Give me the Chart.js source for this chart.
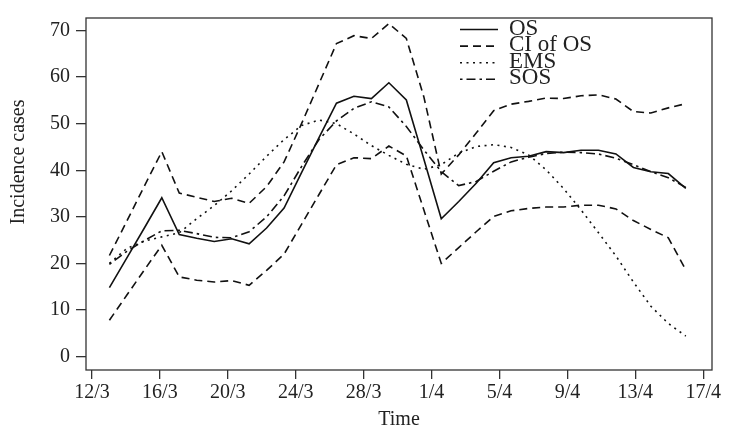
<!DOCTYPE html>
<html>
<head>
<meta charset="utf-8">
<script src="https://cdn.jsdelivr.net/npm/chart.js@4.4.1/dist/chart.umd.min.js"></script>
<style>
  html, body { margin: 0; padding: 0; background: #fff; }
</style>
</head>
<body>
<canvas id="chart" width="733" height="432"></canvas>
<script>
// x positions of the daily observations (tick 0 = 12/3)
const days = [1, 2, 3, 4, 5, 6, 7, 8, 9, 10, 11, 12, 13, 14, 15, 16, 17,
              18, 19, 20, 21, 22, 23, 24, 25, 26, 27, 28, 29, 30, 31, 32, 33, 34];
const tickLabels = ["12/3", "16/3", "20/3", "24/3", "28/3", "1/4", "5/4", "9/4", "13/4", "17/4"];
const tickStep = 35 / 9;
const yTicks = [0, 10, 20, 30, 40, 50, 60, 70];

const os = [14.8, 21.2, 27.6, 34.1, 26.2, 25.4, 24.7, 25.3, 24.2, 27.6, 31.9, 39.5,
            47.0, 54.4, 55.9, 55.4, 58.8, 55.1, 42.4, 29.6, 33.3, 37.2, 41.6, 42.7,
            43.0, 44.0, 43.8, 44.3, 44.3, 43.5, 40.6, 39.7, 39.3, 36.1];
const ciUpper = [21.7, 29.1, 36.6, 44.0, 35.1, 34.2, 33.3, 34.0, 32.9, 36.5, 41.8, 50.0,
                 58.6, 67.2, 68.9, 68.3, 71.5, 68.3, 55.8, 39.2, 43.3, 48.0, 52.8, 54.2,
                 54.8, 55.5, 55.4, 56.0, 56.2, 55.3, 52.6, 52.3, 53.4, 54.3];
const ciLower = [7.8, 13.2, 18.6, 23.9, 17.1, 16.4, 16.0, 16.3, 15.3, 18.5, 22.0, 28.4,
                 34.8, 41.2, 42.7, 42.5, 45.2, 43.1, 31.5, 20.0, 23.4, 26.8, 30.1, 31.3,
                 31.8, 32.1, 32.1, 32.5, 32.5, 31.7, 29.2, 27.3, 25.5, 18.6];
const ems = [20.0, 23.2, 24.8, 25.7, 26.6, 29.6, 32.4, 35.6, 39.2, 43.0, 46.6, 49.6,
             50.8, 50.0, 47.8, 45.3, 43.2, 41.3, 40.2, 41.2, 43.7, 45.1, 45.5, 44.9,
             43.3, 40.1, 36.1, 31.5, 26.6, 21.6, 16.0, 10.8, 7.1, 4.4];
const sos = [19.8, 22.6, 24.9, 27.0, 27.1, 26.4, 25.6, 25.5, 26.8, 30.0, 34.5, 40.8,
             46.6, 50.6, 53.3, 54.7, 53.6, 49.4, 44.4, 39.7, 36.7, 37.6, 39.8, 41.8,
             42.8, 43.6, 43.9, 43.8, 43.5, 42.6, 41.2, 39.7, 38.4, 36.3];

const dashes = { solid: [], dashed: [8, 5], dotted: [2, 4.5], dashDot: [2.5, 4, 9, 4] };
const legendItems = [
  { label: "OS", dash: dashes.solid },
  { label: "CI of OS", dash: dashes.dashed },
  { label: "EMS", dash: dashes.dotted },
  { label: "SOS", dash: dashes.dashDot }
];

const serif = "Liberation Serif";
const ink = "#222";

function series(label, values, dash) {
  return {
    label: label,
    data: values.map((v, k) => ({ x: days[k], y: v })),
    borderColor: "#111",
    borderWidth: 1.6,
    borderDash: dash,
    pointRadius: 0,
    tension: 0,
    fill: false
  };
}

// box around the plot, legend in the top right, y title
const frameAndLegend = {
  id: "frameAndLegend",
  afterDatasetsDraw(chart) {
    const { ctx, chartArea: a } = chart;
    ctx.save();
    ctx.strokeStyle = "#333";
    ctx.lineWidth = 1.3;
    ctx.strokeRect(a.left, a.top, a.right - a.left, a.bottom - a.top);

    ctx.font = `23px "${serif}"`;
    ctx.fillStyle = ink;
    ctx.textBaseline = "alphabetic";
    legendItems.forEach((item, k) => {
      const base = 34.5 + k * 16.6;
      ctx.strokeStyle = "#111";
      ctx.lineWidth = 1.6;
      ctx.setLineDash(item.dash);
      ctx.beginPath();
      ctx.moveTo(460, base - 5);
      ctx.lineTo(498, base - 5);
      ctx.stroke();
      ctx.setLineDash([]);
      ctx.fillText(item.label, 509, base);
    });

    ctx.translate(19, 162);
    ctx.rotate(-Math.PI / 2);
    ctx.textAlign = "center";
    ctx.textBaseline = "middle";
    ctx.font = `20px "${serif}"`;
    ctx.fillText("Incidence cases", 0, 0);
    ctx.restore();
  }
};

new Chart(document.getElementById("chart"), {
  type: "line",
  data: {
    datasets: [
      series("OS", os, dashes.solid),
      series("CI of OS", ciUpper, dashes.dashed),
      series("CI of OS", ciLower, dashes.dashed),
      series("EMS", ems, dashes.dotted),
      series("SOS", sos, dashes.dashDot)
    ]
  },
  options: {
    responsive: false,
    animation: false,
    layout: { padding: { top: 14, right: 21, left: 0, bottom: 0 } },
    plugins: { legend: { display: false }, tooltip: { enabled: false } },
    scales: {
      x: {
        type: "linear",
        min: -0.34,
        max: 35.5,
        afterBuildTicks: (axis) => { axis.ticks = tickLabels.map((_, k) => ({ value: k * tickStep })); },
        afterFit: (axis) => { axis.height = 62; },
        grid: { display: true, drawOnChartArea: false, drawTicks: true, tickLength: 9, color: "#333", lineWidth: 1.3 },
        border: { display: false },
        ticks: {
          autoSkip: false, maxRotation: 0, padding: 2, color: ink,
          font: { family: serif, size: 20 },
          callback: (value, index) => tickLabels[index]
        },
        title: { display: true, text: "Time", color: ink, font: { family: serif, size: 20 }, padding: 0 }
      },
      y: {
        type: "linear",
        min: -2.89,
        max: 72.7,
        afterBuildTicks: (axis) => { axis.ticks = yTicks.map((v) => ({ value: v })); },
        afterFit: (axis) => { axis.width = 86; },
        grid: { display: true, drawOnChartArea: false, drawTicks: true, tickLength: 10, color: "#333", lineWidth: 1.3 },
        border: { display: false },
        ticks: { padding: 6, color: ink, font: { family: serif, size: 20 } }
      }
    }
  },
  plugins: [frameAndLegend]
});
</script>
</body>
</html>
